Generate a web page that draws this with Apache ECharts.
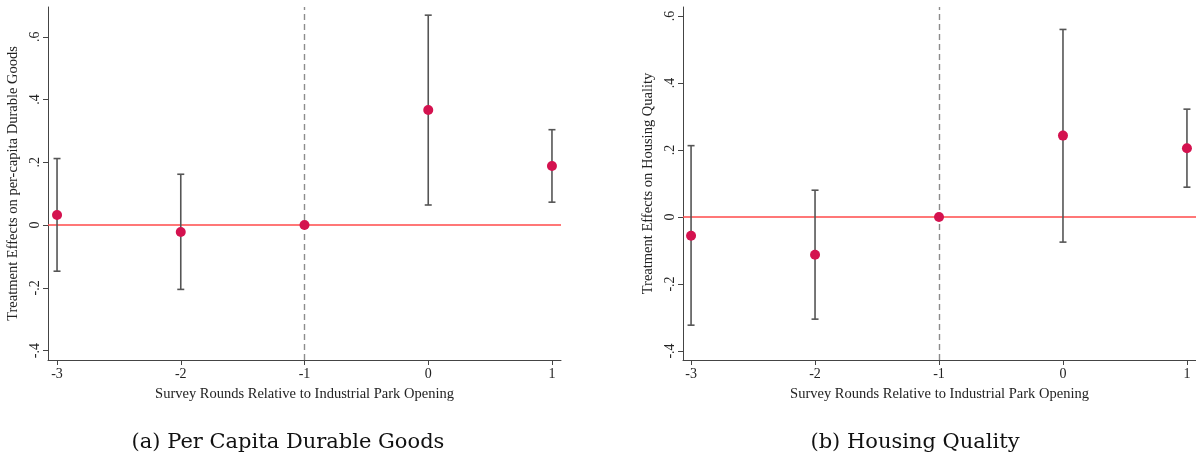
<!DOCTYPE html>
<html>
<head>
<meta charset="utf-8">
<script src="https://cdn.jsdelivr.net/npm/echarts@6/dist/echarts.min.js"></script>
<style>
html,body{margin:0;padding:0;background:#fff;}
#chart{width:1196px;height:459px;}
</style>
</head>
<body>
<div id="chart"></div>
<script>
var rounds = [-3, -2, -1, 0, 1];
var xTicks = [-3, -2, -1, 0, 1];
var yTicks = [-0.4, -0.2, 0, 0.2, 0.4, 0.6];

var durableCoef = [0.032, -0.022, 0, 0.367, 0.188];
var durableLow  = [-0.147, -0.205, 0, 0.064, 0.073];
var durableHigh = [0.212, 0.162, 0, 0.669, 0.304];

var housingCoef = [-0.056, -0.113, 0, 0.243, 0.205];
var housingLow  = [-0.323, -0.305, 0, -0.075, 0.089];
var housingHigh = [0.213, 0.080, 0, 0.560, 0.322];

var xTitle = 'Survey Rounds Relative to Industrial Park Opening';
var yTitleA = 'Treatment Effects on per-capita Durable Goods';
var yTitleB = 'Treatment Effects on Housing Quality';
var captionA = '(a) Per Capita Durable Goods';
var captionB = '(b) Housing Quality';

var serif = '"Liberation Serif", "Times New Roman", serif';
var axisColor = '#444';
var barColor = '#555';
var dotColor = '#d4124f';

function fmtY(v) {
  if (Math.abs(v) < 1e-9) return '0';
  var s = (Math.round(v * 10) / 10).toString();
  return s.replace('0.', '.');
}

function xAxisCfg(idx, min, max) {
  return {
    type: 'value', gridIndex: idx, min: min, max: max,
    name: xTitle, nameLocation: 'middle', nameGap: 27,
    nameTextStyle: {fontFamily: serif, fontSize: 14.5, color: '#222'},
    axisLine: {show: true, onZero: false, lineStyle: {color: axisColor, width: 1}},
    axisTick: {show: true, length: 5, customValues: xTicks, lineStyle: {color: axisColor}},
    axisLabel: {customValues: xTicks, fontFamily: serif, fontSize: 14, color: '#222', margin: 7,
      formatter: function (v) { return String(v); }},
    splitLine: {show: false}
  };
}
function yAxisCfg(idx, min, max, title) {
  return {
    type: 'value', gridIndex: idx, min: min, max: max,
    name: title, nameLocation: 'middle', nameGap: 27,
    nameTextStyle: {fontFamily: serif, fontSize: 14.5, color: '#222'},
    axisLine: {show: true, onZero: false, lineStyle: {color: axisColor, width: 1}},
    axisTick: {show: true, length: 5, customValues: yTicks, lineStyle: {color: axisColor}},
    axisLabel: {customValues: yTicks, rotate: 90, fontFamily: serif, fontSize: 14, color: '#222', margin: 6,
      formatter: fmtY},
    splitLine: {show: false}
  };
}

function errData(low, high) {
  var out = [];
  for (var i = 0; i < rounds.length; i++) {
    if (high[i] !== low[i]) out.push([rounds[i], low[i], high[i]]);
  }
  return out;
}
function errSeries(idx, low, high) {
  return {
    type: 'custom', xAxisIndex: idx, yAxisIndex: idx, z: 3,
    data: errData(low, high),
    encode: {x: 0, y: [1, 2]},
    renderItem: function (params, api) {
      var x = api.value(0);
      var lo = api.coord([x, api.value(1)]);
      var hi = api.coord([x, api.value(2)]);
      var hw = 3.5;
      var st = {stroke: barColor, lineWidth: 1.6, fill: null};
      return {type: 'group', children: [
        {type: 'line', shape: {x1: lo[0], y1: lo[1], x2: hi[0], y2: hi[1]}, style: st},
        {type: 'line', shape: {x1: lo[0] - hw, y1: lo[1], x2: lo[0] + hw, y2: lo[1]}, style: st},
        {type: 'line', shape: {x1: hi[0] - hw, y1: hi[1], x2: hi[0] + hw, y2: hi[1]}, style: st}
      ]};
    }
  };
}
function pointSeries(idx, coef) {
  return {
    type: 'scatter', xAxisIndex: idx, yAxisIndex: idx, z: 5,
    symbol: 'circle', symbolSize: 10,
    itemStyle: {color: dotColor, opacity: 1},
    data: rounds.map(function (r, i) { return [r, coef[i]]; }),
    markLine: {
      silent: true, symbol: 'none', z: 2, animation: false,
      label: {show: false},
      data: [
        {yAxis: 0, lineStyle: {color: '#ff4a4a', width: 1.5, type: 'solid'}},
        {xAxis: -1, lineStyle: {color: '#8c8c8c', width: 1.4, type: [6, 4]}}
      ]
    }
  };
}

var chart = echarts.init(document.getElementById('chart'), null, {renderer: 'canvas'});
chart.setOption({
  animation: false,
  backgroundColor: '#fff',
  grid: [
    {left: 48, top: 7, width: 513, height: 353},
    {left: 683, top: 7, width: 513, height: 353}
  ],
  xAxis: [xAxisCfg(0, -3.073, 1.073), xAxisCfg(1, -3.065, 1.073)],
  yAxis: [yAxisCfg(0, -0.43, 0.695, yTitleA), yAxisCfg(1, -0.427, 0.627, yTitleB)],
  title: [
    {text: captionA, left: 283, top: 427, textAlign: 'center',
      textStyle: {fontFamily: '"DejaVu Serif", serif', fontWeight: 'normal', fontSize: 21, color: '#111'}},
    {text: captionB, left: 910, top: 427, textAlign: 'center',
      textStyle: {fontFamily: '"DejaVu Serif", serif', fontWeight: 'normal', fontSize: 21, color: '#111'}}
  ],
  series: [
    errSeries(0, durableLow, durableHigh),
    pointSeries(0, durableCoef),
    errSeries(1, housingLow, housingHigh),
    pointSeries(1, housingCoef)
  ]
});
</script>
</body>
</html>
